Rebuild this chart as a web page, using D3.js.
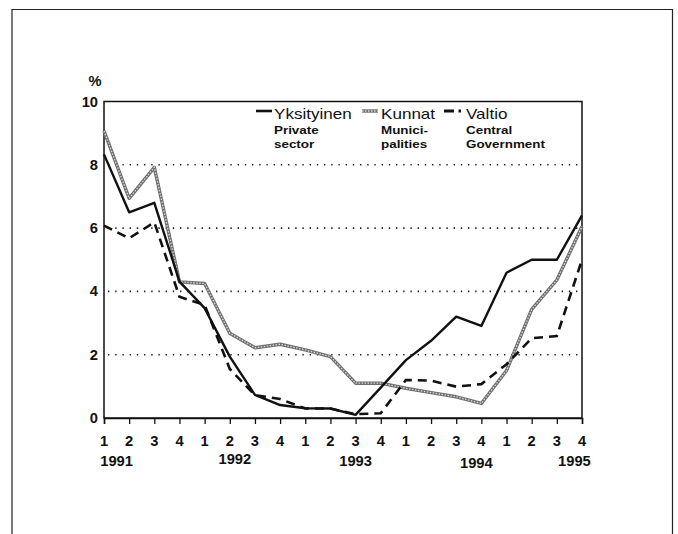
<!DOCTYPE html>
<html>
<head>
<meta charset="utf-8">
<script src="https://cdn.jsdelivr.net/npm/d3@7"></script>
<style>
  html, body { margin: 0; padding: 0; background: #fff; }
  svg { display: block; }
  text { font-family: "Liberation Sans", Arial, Helvetica, sans-serif; fill: #111; }
</style>
</head>
<body>
<svg id="chart" width="678" height="534"></svg>
<script>
// ---------------- data ----------------
const quarters = ["1","2","3","4","1","2","3","4","1","2","3","4","1","2","3","4","1","2","3","4"];
const years = ["1991","1992","1993","1994","1995"];
const yTicks = [0, 2, 4, 6, 8, 10];
const gridValues = [2, 4, 6, 8];

const privateSector = [8.33, 6.5, 6.8, 4.31, 3.47, 1.94, 0.73, 0.41, 0.31, 0.3, 0.1, 0.96, 1.83, 2.44, 3.2, 2.91, 4.59, 5.0, 5.0, 6.4];
const municipalities = [9.07, 6.94, 7.92, 4.3, 4.25, 2.68, 2.22, 2.33, 2.15, 1.94, 1.1, 1.1, 0.94, 0.8, 0.67, 0.46, 1.5, 3.43, 4.36, 6.05];
const centralGov = [6.08, 5.68, 6.18, 3.83, 3.57, 1.55, 0.72, 0.6, 0.3, 0.3, 0.12, 0.15, 1.2, 1.18, 0.99, 1.07, 1.7, 2.52, 2.59, 5.0];

const seriesNames = ["Yksityinen", "Kunnat", "Valtio"];
const seriesSub1 = ["Private", "Munici-", "Central"];
const seriesSub2 = ["sector", "palities", "Government"];

// ---------------- layout ----------------
const svg = d3.select("#chart");
const plot = { left: 104, right: 582, top: 101.5, bottom: 418 };
const yearPos = [0.5, 5.2, 10.0, 14.8, 18.7];
const yearDy = [0, -2, 0, 2, 0];
const axisSX = 1.05, legSX = 1.22;

const keys = quarters.map((q, i) => i);
const x = d3.scalePoint().domain(keys).range([plot.left, plot.right]);
const xi = d3.scaleLinear().domain([0, quarters.length - 1]).range([plot.left, plot.right]);
const y = d3.scaleLinear().domain([0, 10]).range([plot.bottom, plot.top]);

function stext(g, str, tx, ty, sx, size, weight, anchor) {
  return g.append("text")
    .attr("transform", `translate(${tx},${ty}) scale(${sx},1)`)
    .attr("font-size", size)
    .attr("font-weight", weight)
    .attr("text-anchor", anchor || "start")
    .text(str);
}

// outer frame (open at bottom, cut by the page edge)
svg.append("path")
  .attr("d", `M12,540 L12,9.5 L672.5,9.5 L672.5,540`)
  .attr("fill", "none").attr("stroke", "#222").attr("stroke-width", 1.2);

// gridlines
svg.append("g").selectAll("line").data(gridValues).join("line")
  .attr("x1", plot.left + 4).attr("x2", plot.right)
  .attr("y1", d => y(d)).attr("y2", d => y(d))
  .attr("stroke", "#222").attr("stroke-width", 1.6)
  .attr("stroke-dasharray", "1.4,5.8");

// plot box
svg.append("rect")
  .attr("x", plot.left).attr("y", plot.top)
  .attr("width", plot.right - plot.left).attr("height", plot.bottom - plot.top)
  .attr("fill", "none").attr("stroke", "#111").attr("stroke-width", 1.5);

// x axis ticks
const xAxis = d3.axisBottom(x).tickSize(6).tickFormat(() => "");
const gx = svg.append("g").attr("transform", `translate(0,${plot.bottom})`).call(xAxis);
gx.select(".domain").attr("stroke", "#111").attr("stroke-width", 1.5);
gx.selectAll(".tick line").attr("stroke", "#111").attr("stroke-width", 1.3);

// quarter labels
const gq = svg.append("g");
quarters.forEach((q, i) => stext(gq, q, x(i), 445.5, axisSX, 14, "bold", "middle"));

// year labels
years.forEach((yr, i) => {
  stext(gq, yr, xi(yearPos[i]), 466 + yearDy[i], axisSX, 14, "bold", "middle");
});

// y tick labels
const gy = svg.append("g");
yTicks.forEach(v => stext(gy, String(v), 98, y(v) + 5, axisSX, 14, "bold", "end"));
stext(gy, "%", 95, 85.5, axisSX, 14, "bold", "middle");

// lines
const line = d3.line().x((d, i) => x(i)).y(d => y(d));

const gl = svg.append("g");
gl.append("path").datum(municipalities).attr("d", line)
  .attr("fill", "none").attr("stroke", "#6f6f6f").attr("stroke-width", 3.4)
  .attr("stroke-linejoin", "round");
gl.append("path").datum(municipalities).attr("d", line)
  .attr("fill", "none").attr("stroke", "#d8d8d8").attr("stroke-width", 1.3)
  .attr("stroke-dasharray", "1.5,1.5");
gl.append("path").datum(centralGov).attr("d", line)
  .attr("fill", "none").attr("stroke", "#111").attr("stroke-width", 2.6)
  .attr("stroke-dasharray", "9,6");
gl.append("path").datum(privateSector).attr("d", line)
  .attr("fill", "none").attr("stroke", "#111").attr("stroke-width", 2.4)
  .attr("stroke-linejoin", "round");

// legend
const lg = svg.append("g");
const legX = [256, 362, 444];
const textX = [274, 381, 466];
const sampleW = [16, 16, 17];
const legY = 111;
lg.append("line").attr("x1", legX[0]).attr("x2", legX[0] + sampleW[0]).attr("y1", legY).attr("y2", legY)
  .attr("stroke", "#111").attr("stroke-width", 2.6);
lg.append("line").attr("x1", legX[1]).attr("x2", legX[1] + sampleW[1]).attr("y1", legY).attr("y2", legY)
  .attr("stroke", "#6f6f6f").attr("stroke-width", 3.4);
lg.append("line").attr("x1", legX[1]).attr("x2", legX[1] + sampleW[1]).attr("y1", legY).attr("y2", legY)
  .attr("stroke", "#d8d8d8").attr("stroke-width", 1.3).attr("stroke-dasharray", "1.5,1.5");
lg.append("line").attr("x1", legX[2]).attr("x2", legX[2] + sampleW[2]).attr("y1", legY).attr("y2", legY)
  .attr("stroke", "#111").attr("stroke-width", 2.8).attr("stroke-dasharray", "10,4.5");

seriesNames.forEach((n, i) => {
  stext(lg, n, textX[i], 119, legSX, 14, "normal");
  stext(lg, seriesSub1[i], textX[i], 133.5, legSX, 11, "bold");
  stext(lg, seriesSub2[i], textX[i], 147.5, legSX, 11, "bold");
});
</script>
</body>
</html>
